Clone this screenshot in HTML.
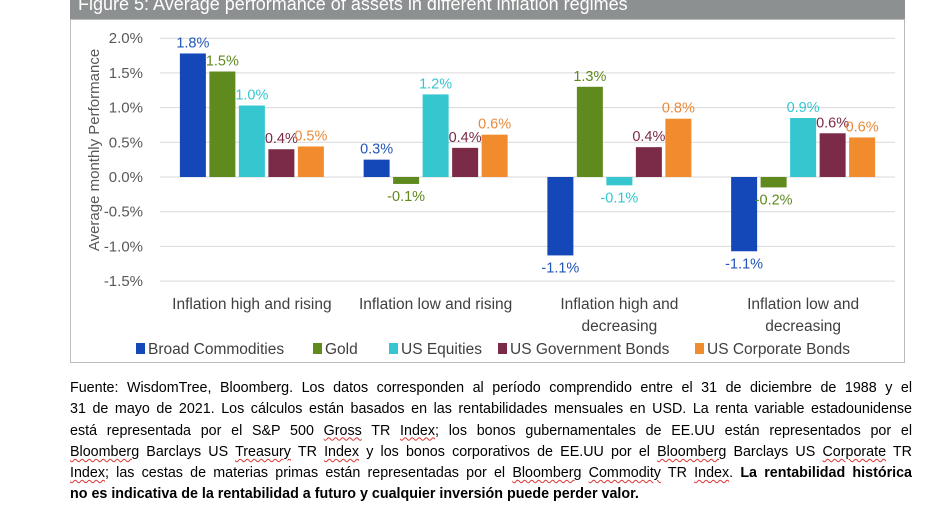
<!DOCTYPE html>
<html><head><meta charset="utf-8"><style>
body{margin:0;width:928px;height:520px;background:#fff;font-family:"Liberation Sans",sans-serif;overflow:hidden;position:relative}
#title{position:absolute;left:70px;top:0;width:835px;height:19px;background:#8c9091;color:#fff;font-size:18px;line-height:9px;padding-left:8px;box-sizing:border-box;overflow:hidden}
#box{position:absolute;left:70px;top:19px;width:835px;height:344px;border:1px solid #bbb;box-sizing:border-box}
#foot{position:absolute;left:70px;top:378px;width:842px;font-size:14.3px;line-height:21.3px;color:#000}
#foot div{text-align:justify;text-align-last:justify;white-space:nowrap}
#foot div.last{text-align-last:left}
u{text-decoration:underline wavy #d33;text-decoration-thickness:1px;text-underline-offset:2px}
</style></head><body>
<div id="title">Figure 5: Average performance of assets in different inflation regimes</div>
<div id="box"></div>
<svg id="chart" width="928" height="520" style="position:absolute;left:0;top:0"></svg>
<div id="foot">
<div>Fuente: WisdomTree, Bloomberg. Los datos corresponden al período comprendido entre el 31 de diciembre de 1988 y el</div>
<div>31 de mayo de 2021. Los cálculos están basados en las rentabilidades mensuales en USD. La renta variable estadounidense</div>
<div>está representada por el S&amp;P 500 <u>Gross</u> TR <u>Index</u>; los bonos gubernamentales de EE.UU están representados por el</div>
<div><u>Bloomberg</u> Barclays US <u>Treasury</u> TR <u>Index</u> y los bonos corporativos de EE.UU por el <u>Bloomberg</u> Barclays US <u>Corporate</u> TR</div>
<div><u>Index</u>; las cestas de materias primas están representadas por el <u>Bloomberg</u> <u>Commodity</u> TR <u>Index</u>. <b>La rentabilidad histórica</b></div>
<div class="last"><b>no es indicativa de la rentabilidad a futuro y cualquier inversión puede perder valor.</b></div>
</div>
<script>
const categories=[["Inflation high and rising"],["Inflation low and rising"],["Inflation high and","decreasing"],["Inflation low and","decreasing"]];
const seriesNames=["Broad Commodities","Gold","US Equities","US Government Bonds","US Corporate Bonds"];
const commodities=[1.78,0.25,-1.13,-1.07];
const gold=[1.52,-0.10,1.30,-0.15];
const equities=[1.03,1.19,-0.12,0.85];
const govBonds=[0.40,0.42,0.43,0.63];
const corpBonds=[0.44,0.61,0.84,0.57];
const printed=[["1.8%","0.3%","-1.1%","-1.1%"],["1.5%","-0.1%","1.3%","-0.2%"],["1.0%","1.2%","-0.1%","0.9%"],["0.4%","0.4%","0.4%","0.6%"],["0.5%","0.6%","0.8%","0.6%"]];
const ticks=[2.0,1.5,1.0,0.5,0.0,-0.5,-1.0,-1.5];
const colors=["#1447b8","#5f8a1e","#35c6d0","#7b2a48","#f08c2e"];
const labelColors=["#2155b8","#5f8a1e","#35c6d0","#7b2a48","#e98a3a"];
const series=[commodities,gold,equities,govBonds,corpBonds];
const svg=document.getElementById('chart');const NS="http://www.w3.org/2000/svg";
function y(v){return 177-v*69.4;}
const plotL=160,plotR=895,groupW=(plotR-plotL)/4;
function cx(i){return plotL+groupW*(i+0.5);}
function mk(t,a,txt){const e=document.createElementNS(NS,t);for(const k in a)e.setAttribute(k,a[k]);if(txt!=null)e.textContent=txt;svg.appendChild(e);return e;}
ticks.forEach(t=>{
 const l=mk('line',{x1:plotL,x2:plotR,y1:y(t),y2:y(t),stroke:'#d9d9d9','stroke-width':1});
 
 
 const tx=mk('text',{x:143,y:y(t)+5,'text-anchor':'end','font-size':15,fill:'#595959'},t.toFixed(1)+'%');
 
 
});
const yt=mk('text',{x:0,y:0,transform:'translate(99,150) rotate(-90)','text-anchor':'middle','font-size':15,fill:'#595959'},'Average monthly Performance');


const bw=26,step=29.5;
categories.forEach((c,i)=>{
 series.forEach((s,j)=>{
  const x=cx(i)+(j-2)*step-bw/2;const v=s[i];
  const r=mk('rect',{x:x,y:Math.min(y(v),y(0)),width:bw,height:Math.abs(y(v)-y(0)),fill:colors[j]});
  
  
  const ly=v>=0?y(v)-6:y(v)+17;
  const t=mk('text',{x:x+bw/2,y:ly,'text-anchor':'middle','font-size':14.5,fill:labelColors[j]},printed[j][i]);
  
  
 });
 c.forEach((line,k)=>{
  const t=mk('text',{x:cx(i),y:309+k*22,'text-anchor':'middle','font-size':15.5,fill:'#404040'},line);
  
  
 });
});
const legX=[136,313,389,498,695];
seriesNames.forEach((n,j)=>{
 const r=mk('rect',{x:legX[j],y:343,width:9,height:11,fill:colors[j]});
 
 
 const t=mk('text',{x:legX[j]+12,y:354,'font-size':15.5,fill:'#404040'},n);
 
 
});
</script>
</body></html>
